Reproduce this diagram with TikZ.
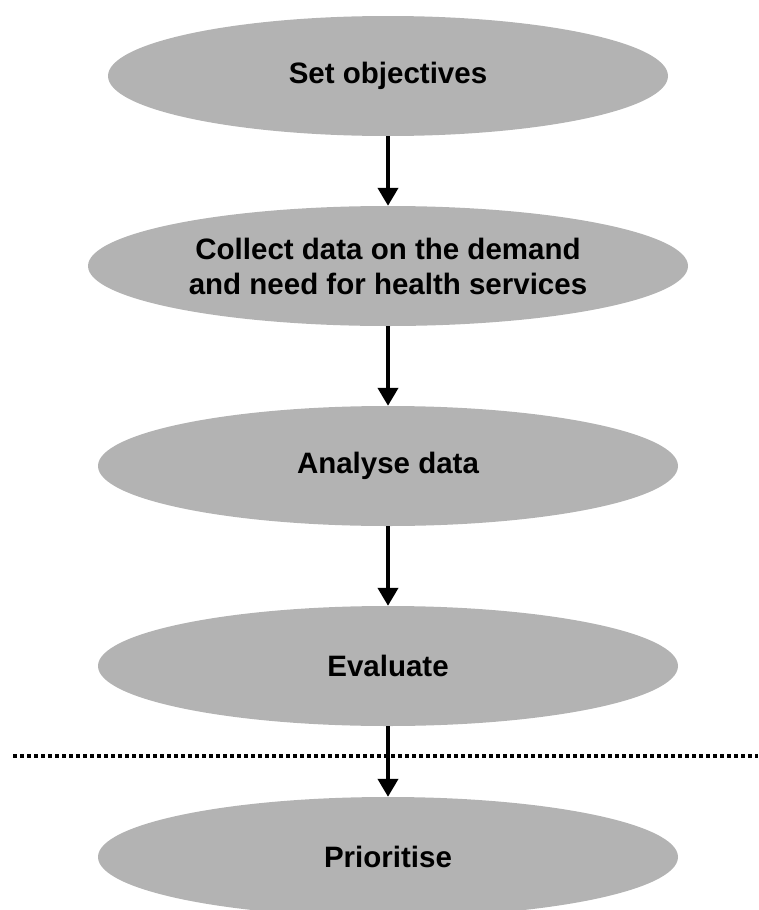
\documentclass[tikz,border=0pt]{standalone}
\usepackage{fontspec}
\setmainfont{Liberation Sans}
\usepackage{tikz}
\usetikzlibrary{arrows.meta, shapes.geometric}
\usepackage{xcolor}
\definecolor{stagegray}{RGB}{179,179,179}

\begin{document}
\begin{tikzpicture}[x=1pt, y=-1pt, >={Triangle[width=20pt, length=18pt]},
  every node/.style={font=\bfseries\fontsize{29.5}{35}\selectfont},
  stage/.style={ellipse, fill=stagegray, inner sep=0pt, minimum height=120pt, align=center}]
\useasboundingbox (0,0) rectangle (758,910);
\node[stage, minimum width=560pt] (obj)  at (388,76)  {Set objectives};
\node[stage, minimum width=600pt] (coll) at (388,266) {Collect data on the demand\\and need for health services};
\node[stage, minimum width=580pt] (anal) at (388,466) {Analyse data};
\node[stage, minimum width=580pt] (eval) at (388,666) {Evaluate};
\node[stage, minimum width=580pt] (prio) at (388,857) {Prioritise};
\coordinate (cutL) at (13,756);
\coordinate (cutR) at (758,756);
\draw[line width=4pt, dash pattern=on 4pt off 3pt] (cutL) -- (cutR);
\draw[->, line width=4pt] (obj) -- (coll);
\draw[->, line width=4pt] (coll) -- (anal);
\draw[->, line width=4pt] (anal) -- (eval);
\draw[->, line width=4pt] (eval) -- (prio);
\end{tikzpicture}
\end{document}
